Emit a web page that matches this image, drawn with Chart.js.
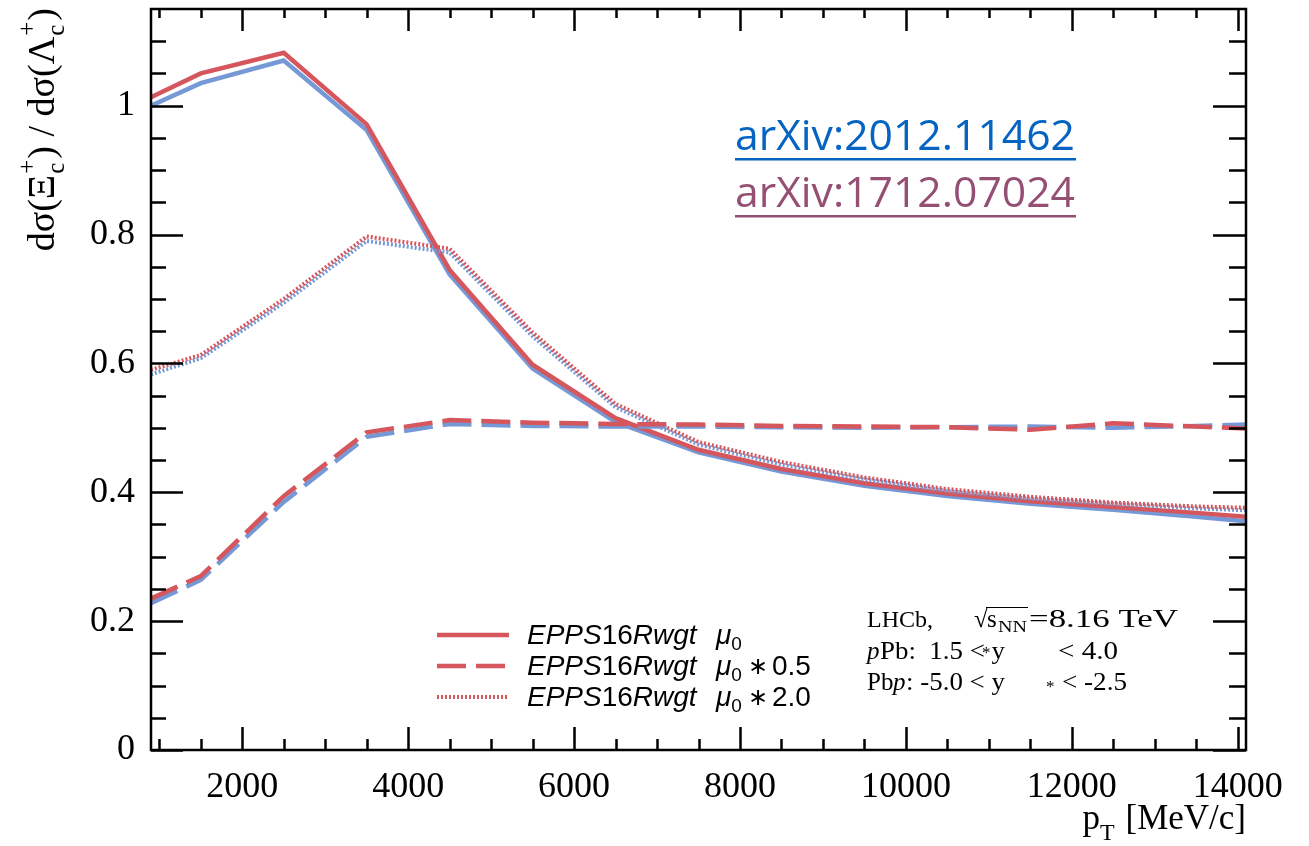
<!DOCTYPE html>
<html>
<head>
<meta charset="utf-8">
<script src="https://cdn.jsdelivr.net/npm/chart.js@4"></script>
<style>
  html, body { margin: 0; padding: 0; background: #ffffff; }
  #wrap { width: 1309px; height: 846px; }
</style>
</head>
<body>
<div id="wrap"><canvas id="grafico" width="1309" height="846"></canvas></div>
<script>
// Puntos en pT (MeV/c), bordes incluidos
const pT = [900, 1500, 2500, 3500, 4500, 5500, 6500, 7500, 8500, 9500, 10500, 11500, 12500, 13500, 14100];

// mu0 (linea continua)
const mu0Rojo = [1.013, 1.050, 1.082, 0.971, 0.745, 0.598, 0.515, 0.466, 0.436, 0.414, 0.398, 0.386, 0.377, 0.368, 0.362];
const mu0Azul = [1.000, 1.035, 1.070, 0.962, 0.738, 0.592, 0.509, 0.462, 0.432, 0.410, 0.394, 0.382, 0.373, 0.362, 0.355];
// mu0 * 0.5 (linea discontinua)
const mediaRojo = [0.235, 0.270, 0.394, 0.493, 0.512, 0.508, 0.506, 0.505, 0.503, 0.502, 0.501, 0.497, 0.507, 0.502, 0.499];
const mediaAzul = [0.228, 0.264, 0.385, 0.486, 0.506, 0.503, 0.502, 0.502, 0.501, 0.500, 0.501, 0.502, 0.500, 0.503, 0.505];
// mu0 * 2.0 (linea punteada)
const dobleRojo = [0.590, 0.613, 0.700, 0.797, 0.778, 0.648, 0.537, 0.478, 0.447, 0.423, 0.405, 0.393, 0.384, 0.378, 0.376];
const dobleAzul = [0.583, 0.608, 0.694, 0.790, 0.772, 0.642, 0.532, 0.474, 0.443, 0.420, 0.402, 0.390, 0.382, 0.375, 0.372];

// Ticks
const xTicks = [2000, 4000, 6000, 8000, 10000, 12000, 14000];
const yTicks = [0, 0.2, 0.4, 0.6, 0.8, 1];
const yTickLabels = ["0", "0.2", "0.4", "0.6", "0.8", "1"];

const leyenda = ["\u03bc0", "\u03bc0 * 0.5", "\u03bc0 * 2.0"];

const ROJO = "#d5565c";
const AZUL = "#7598d6";
const SERIF = "'Liberation Serif', 'Times New Roman', serif";
const SANS = "'Liberation Sans', Arial, sans-serif";

function puntos(valores) {
  return pT.map((x, i) => ({ x: x, y: valores[i] }));
}

function serie(valores, color, dash, ancho) {
  return {
    data: puntos(valores),
    borderColor: color,
    borderWidth: ancho,
    borderDash: dash,
    pointRadius: 0,
    tension: 0,
    fill: false,
  };
}

// Dibuja un texto con sub/superindices, devuelve el ancho total
function textoRico(ctx, partes, x, y, medir) {
  let pos = x;
  partes.forEach((p) => {
    ctx.font = p.font;
    if (p.sup !== undefined || p.sub !== undefined) {
      // superindice y subindice apilados
      const ws = p.sup ? ctx.measureText(p.sup).width : 0;
      const wb = p.sub ? ctx.measureText(p.sub).width : 0;
      if (!medir) {
        if (p.sup) ctx.fillText(p.sup, pos, y - p.subeS);
        if (p.sub) ctx.fillText(p.sub, pos, y + p.bajaS);
      }
      pos += Math.max(ws, wb) + (p.extra || 0);
      return;
    }
    const w = ctx.measureText(p.t).width;
    if (!medir) ctx.fillText(p.t, pos + (p.dx || 0), y + (p.dy || 0));
    pos += w + (p.extra || 0);
  });
  return pos - x;
}

// texto estirado entre x0 y x1
function estirado(ctx, t, font, x0, x1, y) {
  ctx.font = font;
  const w = ctx.measureText(t).width;
  ctx.save();
  ctx.translate(x0, y);
  ctx.scale(Math.max(1, (x1 - x0) / w), 1);
  ctx.fillText(t, 0, 0);
  ctx.restore();
}

const marco = {
  id: "marco",
  afterDraw(chart) {
    const ctx = chart.ctx;
    const a = chart.chartArea;
    const sx = chart.scales.x;
    const sy = chart.scales.y;
    ctx.save();
    ctx.strokeStyle = "#000";
    ctx.lineWidth = 2.5;
    ctx.strokeRect(a.left, a.top, a.right - a.left, a.bottom - a.top);

    // ticks hacia dentro
    ctx.beginPath();
    for (let v = 1000; v <= 14000; v += 500) {
      const px = Math.round(sx.getPixelForValue(v)) + 0.5;
      const mayor = v % 2000 === 0;
      ctx.moveTo(px, a.bottom);
      ctx.lineTo(px, a.bottom - (mayor ? 23 : 11));
      ctx.moveTo(px, a.top);
      ctx.lineTo(px, a.top + (mayor ? 22 : 9));
    }
    for (let k = 0; k <= 22; k++) {
      const v = k * 0.05;
      const py = Math.round(sy.getPixelForValue(v)) + 0.5;
      const mayor = k % 4 === 0;
      ctx.moveTo(a.left, py);
      ctx.lineTo(a.left + (mayor ? 32 : 15), py);
      ctx.moveTo(a.right, py);
      ctx.lineTo(a.right - (mayor ? 33 : 17), py);
    }
    ctx.stroke();

    ctx.fillStyle = "#000";
    ctx.textBaseline = "alphabetic";
    ctx.textAlign = "left";

    // titulo eje X
    const fx = "35px " + SERIF;
    const fxs = "24px " + SERIF;
    const px = [
      { t: "p", font: fx },
      { t: "T", font: fxs, dy: 11, extra: 2 },
      { t: " [MeV/c]", font: fx },
    ];
    const wx = textoRico(ctx, px, 0, 0, true);
    textoRico(ctx, px, a.right - wx, 829, false);

    // titulo eje Y (rotado)
    const fy = "38px " + SERIF;
    const fys = "25px " + SERIF;
    const py = [
      { t: "d\u03c3(\u039e", font: fy, extra: 1 },
      { font: fys, sup: "+", sub: "c", subeS: 19, bajaS: 10, extra: 1 },
      { t: ") / d\u03c3(\u039b", font: fy, extra: 1 },
      { font: fys, sup: "+", sub: "c", subeS: 19, bajaS: 10, extra: 1 },
      { t: ")", font: fy },
    ];
    const wy = textoRico(ctx, py, 0, 0, true);
    ctx.save();
    ctx.translate(54, 8 + wy);
    ctx.rotate(-Math.PI / 2);
    textoRico(ctx, py, 0, 0, false);
    ctx.restore();

    // leyenda
    const estilos = [[], [29, 10], [2, 2]];
    leyenda.forEach((lab, i) => {
      const ly = 635 + i * 31;
      ctx.save();
      ctx.strokeStyle = ROJO;
      ctx.lineWidth = i === 2 ? 4 : 4.5;
      ctx.setLineDash(estilos[i]);
      ctx.beginPath();
      ctx.moveTo(437, ly);
      ctx.lineTo(509, ly);
      ctx.stroke();
      ctx.restore();
      const base = ly + 9;
      const fi = "italic 28px " + SANS;
      const fn = "28px " + SANS;
      textoRico(ctx, [
        { t: "EPPS", font: fi },
        { t: "16", font: fn },
        { t: "Rwgt", font: fi },
      ], 527, base, false);
      const resto = lab.slice(2);
      const w0 = textoRico(ctx, [
        { t: "\u03bc", font: fi },
        { t: "0", font: "19px " + SANS, dy: 6, extra: 6 },
      ], 716, base, false);
      if (resto) {
        const partes = resto.trim().split(" ");
        ctx.font = "24px " + SANS;
        ctx.fillText("\u2217", 716 + w0, base - 1);
        ctx.font = fn;
        ctx.fillText(partes[1], 716 + w0 + 24, base);
      }
    });

    // anotacion LHCb
    const fa = "25px " + SERIF;
    const fai = "italic 25px " + SERIF;
    const fas = "17px " + SERIF;
    ctx.font = "24px " + SERIF;
    ctx.fillText("LHCb,", 867, 627);
    ctx.font = fa;
    ctx.fillText("\u221a", 974, 627);
    ctx.beginPath();
    ctx.lineWidth = 1.2;
    ctx.moveTo(986, 607.5);
    ctx.lineTo(1028, 607.5);
    ctx.stroke();
    ctx.font = fa;
    ctx.fillText("s", 987, 627);
    estirado(ctx, "NN", fas, 998, 1027, 632);
    estirado(ctx, "=8.16 TeV", fa, 1029, 1178, 627);
    ctx.font = fas;
    ctx.fillText("*", 982, 658);

    ctx.font = fai;
    ctx.fillText("p", 867, 659);
    estirado(ctx, "Pb:  1.5 < y", fa, 880, 1005, 659);
    estirado(ctx, "< 4.0", fa, 1058, 1118, 659);

    ctx.font = fas;
    ctx.fillText("*", 1046, 692);
    estirado(ctx, "Pb", fa, 867, 893, 690);
    ctx.font = fai;
    ctx.fillText("p", 893, 690);
    estirado(ctx, ": -5.0 < y", fa, 906, 1005, 690);
    estirado(ctx, "< -2.5", fa, 1062, 1127, 690);

    // referencias arXiv
    const refs = [["arXiv:2012.11462", "#0563c1", 150], ["arXiv:1712.07024", "#954f72", 207]];
    refs.forEach(([t, c, b]) => {
      let tam = 40;
      ctx.font = tam + "px 'Open Sans', 'Noto Sans', sans-serif";
      tam = tam * 340 / ctx.measureText(t).width;
      ctx.font = tam.toFixed(1) + "px 'Open Sans', 'Noto Sans', sans-serif";
      ctx.fillStyle = c;
      ctx.fillText(t, 735, b);
      ctx.fillRect(735, b + 8, 341, 2.5);
    });
    ctx.restore();
  },
};

const ctx = document.getElementById("grafico").getContext("2d");
new Chart(ctx, {
  type: "line",
  data: {
    datasets: [
      serie(mediaRojo, ROJO, [29, 10], 4.5),
      serie(mediaAzul, AZUL, [29, 10], 4.5),
      serie(dobleRojo, ROJO, [2, 2], 4),
      serie(dobleAzul, AZUL, [2, 2], 4),
      serie(mu0Rojo, ROJO, [], 4.5),
      serie(mu0Azul, AZUL, [], 4.5),
    ],
  },
  options: {
    responsive: false,
    animation: false,
    layout: { padding: { top: 9, right: 63, left: 0, bottom: 0 } },
    plugins: { legend: { display: false }, tooltip: { enabled: false } },
    scales: {
      x: {
        type: "linear",
        min: 900,
        max: 14100,
        grid: { display: false, drawTicks: false },
        border: { display: false },
        afterBuildTicks: (s) => { s.ticks = xTicks.map((v) => ({ value: v })); },
        afterFit: (s) => { s.height = 96; s.paddingLeft = 0; s.paddingRight = 0; },
        ticks: {
          color: "#000",
          font: { family: SERIF, size: 36 },
          padding: 16,
          maxRotation: 0,
          autoSkip: false,
          callback: (v) => String(v),
        },
      },
      y: {
        type: "linear",
        min: 0,
        max: 1.15,
        grid: { display: false, drawTicks: false },
        border: { display: false },
        afterBuildTicks: (s) => { s.ticks = yTicks.map((v) => ({ value: v })); },
        afterFit: (s) => { s.width = 151; s.paddingTop = 0; s.paddingBottom = 0; },
        ticks: {
          color: "#000",
          font: { family: SERIF, size: 36 },
          padding: 16,
          autoSkip: false,
          callback: (v) => yTickLabels[yTicks.indexOf(v)] ?? "",
        },
      },
    },
  },
  plugins: [marco],
});
</script>
</body>
</html>
